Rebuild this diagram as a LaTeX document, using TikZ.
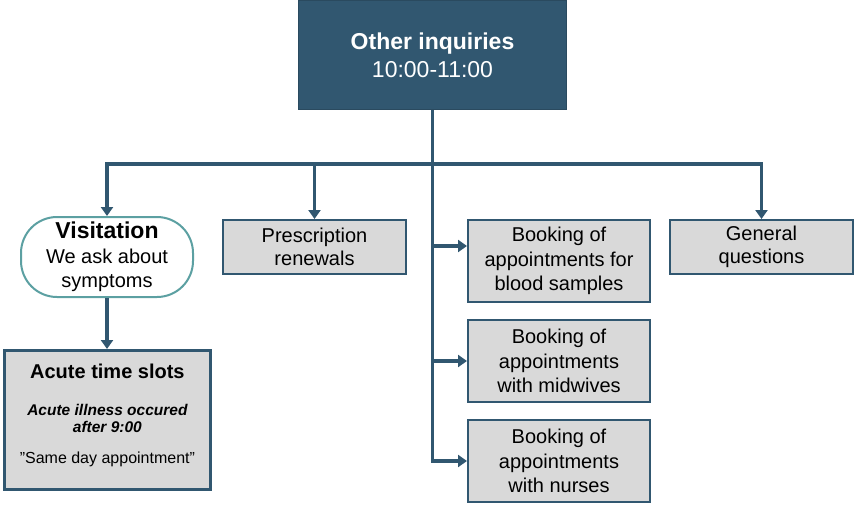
\documentclass[tikz,border=0pt]{standalone}
\usepackage{fontspec}
\setmainfont{Liberation Sans}
\usetikzlibrary{arrows.meta,positioning}

\definecolor{slateblue}{RGB}{49,87,112}
\definecolor{boxgray}{RGB}{217,217,217}
\definecolor{tealline}{RGB}{92,160,162}

\begin{document}
\begin{tikzpicture}[x=1pt,y=1pt,
        box/.style={align=center,anchor=north west,draw=slateblue,line width=2pt,fill=boxgray,inner sep=2pt,font=\fontsize{20}{24.5}\selectfont},
        task/.style={box,minimum width=182pt,minimum height=82pt},
        short/.style={box,minimum width=183pt,minimum height=54pt,font=\fontsize{20}{23}\selectfont},
        head/.style={box,fill=slateblue,draw=slateblue!85!black,line width=1pt,text=white,minimum width=268pt,minimum height=109pt,font=\fontsize{23}{28}\selectfont},
        visit/.style={box,fill=white,draw=tealline,line width=2pt,rounded corners=36pt,minimum width=172pt,minimum height=80pt,font=\fontsize{20}{24.5}\selectfont},
        slot/.style={box,line width=2.8pt,minimum width=206pt,minimum height=139pt,font=\fontsize{16}{17}\selectfont},
        trunk/.style={draw=slateblue,line width=3.2pt},
        link/.style={trunk,-{Triangle[length=9pt,width=12pt]}}
      ]

  \useasboundingbox (0,0) rectangle (854,-509);

  \node   (inquiries) [head] at (298,0) {{\bfseries Other inquiries}\\10:00-11:00};
  \coordinate (hub) at (inquiries.south |- 0,-164);

  \node   (visitation) [visit] at (20,-216) {{\bfseries\fontsize{23}{27}\selectfont Visitation}\\We ask about\\symptoms};
  \node   (acute) [slot] at (3,-349) {{\bfseries\fontsize{20}{20}\selectfont Acute time slots}\\[20pt]{\bfseries\itshape\fontsize{15.5}{17}\selectfont Acute illness occured}\\{\bfseries\itshape\fontsize{15.5}{17}\selectfont after 9:00}\\[14pt]”Same day appointment”\\[-4pt]};

  \node   (prescription) [short] at (222,-219) {Prescription\\renewals};
  \node   (general) [short] at (669,-219) {General\\questions};

  \node   (blood) [task] at (467,-219) {Booking of\\appointments for\\blood samples};
  \node   (midwives) [task,below=16pt of blood] {Booking of\\appointments\\with midwives};
  \node   (nurses) [task,below=16pt of midwives] {Booking of\\appointments\\with nurses};

  \draw[trunk] (inquiries.south) -- (hub);
  \draw[link] (hub) -| (visitation.north);
  \draw[link] (hub) -| (prescription.north);
  \draw[link] (hub) -| (general.north);
  \draw[link] (visitation.south) -- (visitation.south |- acute.north);

  \draw[link] (hub) |- ([yshift=15pt]blood.west);
  \draw[link] (hub) |- (midwives.west);
  \draw[link] (hub) |- (nurses.west);

\end{tikzpicture}
\end{document}
